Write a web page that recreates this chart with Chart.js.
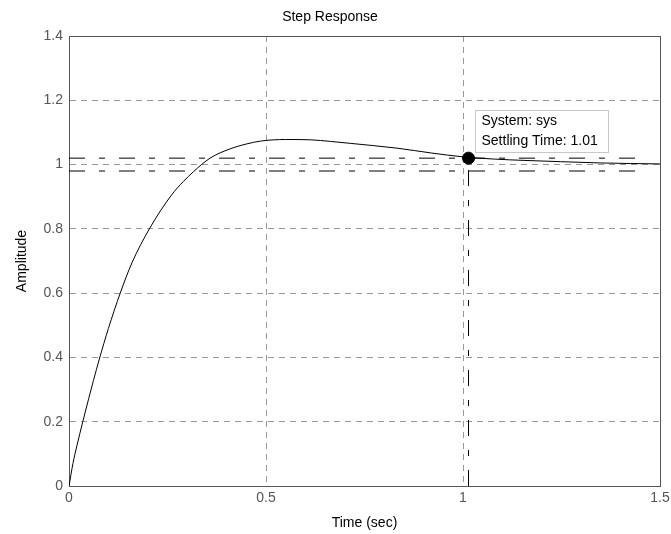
<!DOCTYPE html>
<html lang="en">
<head>
<meta charset="UTF-8">
<title>Step Response</title>
<script src="https://cdn.jsdelivr.net/npm/chart.js"></script>
<style>
  html, body { margin: 0; padding: 0; background: #fff; }
</style>
</head>
<body>
<canvas id="stepChart" width="671" height="534"></canvas>
<script>
// step response (time in sec, amplitude)
const timeSec   = [0, 0.01, 0.02, 0.035, 0.05, 0.062, 0.077, 0.1, 0.13, 0.16, 0.204, 0.26, 0.29, 0.316, 0.358, 0.409, 0.45, 0.486, 0.55, 0.613, 0.664, 0.714, 0.833, 0.92, 1.0, 1.08, 1.155, 1.248, 1.35, 1.5];
const amplitude = [0, 0.07, 0.125, 0.2, 0.272, 0.328, 0.395, 0.49, 0.6, 0.695, 0.8, 0.905, 0.947, 0.978, 1.02, 1.049, 1.064, 1.073, 1.078, 1.077, 1.072, 1.066, 1.051, 1.036, 1.024, 1.017, 1.013, 1.009, 1.005, 1.002];

// settling time marker and +-2% band
const settlingTime = 1.014;
const settlingAmp = 1.02;
const bandUpper = 1.02;
const bandLower = 0.98;
const bandStart = 0;
const bandEnd = 1.465;

// axes
const xRange = [0, 1.5];
const yRange = [0, 1.4];
const xStep = 0.5;
const yStep = 0.2;

const FONT = 'Helvetica, "Liberation Sans", Arial, sans-serif';
const dashBand = [16, 14, 6, 14];

const curve = timeSec.map((t, i) => ({ x: t, y: amplitude[i] }));

const frame = {
    id: 'frame',
    beforeDatasetsDraw(c) {
        const a = c.chartArea, g = c.ctx;
        g.save();
        g.strokeStyle = '#555';
        g.lineWidth = 1;
        g.strokeRect(Math.round(a.left) + 0.5, Math.round(a.top) + 0.5,
            Math.round(a.right - a.left), Math.round(a.bottom - a.top));
        g.restore();
    }
};

// the little data tip next to the marker
const dataTip = {
    id: 'dataTip',
    afterDatasetsDraw(c) {
        const pt = c.getDatasetMeta(4).data[0];
        if (!pt) return;
        const g = c.ctx;
        const bx = Math.round(pt.x + 6) + 0.5;
        const by = Math.round(pt.y - 48) + 0.5;
        g.save();
        g.fillStyle = '#fff';
        g.strokeStyle = '#c8c8c8';
        g.lineWidth = 1;
        g.fillRect(bx, by, 133, 42);
        g.strokeRect(bx, by, 133, 42);
        g.fillStyle = '#000';
        g.font = '14px ' + FONT;
        g.textBaseline = 'middle';
        g.fillText('System: sys', bx + 6, by + 11);
        g.fillText('Settling Time: ' + settlingTime.toFixed(2), bx + 6, by + 31);
        g.restore();
    }
};

const fmt = v => String(+Number(v).toFixed(2));

const ctx = document.getElementById('stepChart').getContext('2d');
const stepChart = new Chart(ctx, {
    type: 'line',
    data: {
        datasets: [
            {
                label: 'sys',
                data: curve,
                borderColor: '#000',
                borderWidth: 1,
                pointRadius: 0,
                cubicInterpolationMode: 'monotone',
                fill: false
            },
            {
                label: 'upper',
                data: [{ x: bandStart, y: bandUpper }, { x: bandEnd, y: bandUpper }],
                borderColor: '#000',
                borderWidth: 1,
                borderDash: dashBand,
                pointRadius: 0
            },
            {
                label: 'lower',
                data: [{ x: bandStart, y: bandLower }, { x: bandEnd, y: bandLower }],
                borderColor: '#000',
                borderWidth: 1,
                borderDash: dashBand,
                pointRadius: 0
            },
            {
                label: 'settle',
                data: [{ x: settlingTime, y: 0 }, { x: settlingTime, y: settlingAmp }],
                borderColor: '#000',
                borderWidth: 1,
                borderDash: dashBand,
                pointRadius: 0
            },
            {
                label: 'marker',
                data: [{ x: settlingTime, y: settlingAmp }],
                showLine: false,
                pointRadius: 6,
                pointBackgroundColor: '#000',
                pointBorderColor: '#000'
            }
        ]
    },
    options: {
        responsive: false,
        animation: false,
        layout: { padding: { right: 11 } },
        plugins: {
            legend: { display: false },
            tooltip: { enabled: false },
            title: {
                display: true,
                text: 'Step Response',
                color: '#000',
                font: { family: FONT, size: 14, weight: 'normal' },
                padding: { top: 8.6, bottom: 10.6 }
            }
        },
        scales: {
            x: {
                type: 'linear',
                min: xRange[0],
                max: xRange[1],
                afterFit: s => { s.height = 48; s.paddingRight = 0; },
                ticks: {
                    stepSize: xStep,
                    color: '#555',
                    padding: 4,
                    font: { family: FONT, size: 14 },
                    callback: fmt
                },
                grid: { color: '#999', drawTicks: false },
                border: { color: '#555', dash: [6, 5] },
                title: {
                    display: true,
                    text: 'Time (sec)',
                    color: '#000',
                    font: { family: FONT, size: 14 },
                    padding: { top: 0, bottom: 2.6 }
                }
            },
            y: {
                min: yRange[0],
                max: yRange[1],
                afterFit: s => { s.width = 69; },
                ticks: {
                    stepSize: yStep,
                    color: '#555',
                    padding: 6,
                    font: { family: FONT, size: 14 },
                    callback: fmt
                },
                grid: { color: '#999', drawTicks: false },
                border: { color: '#555', dash: [6, 5] },
                title: {
                    display: true,
                    text: 'Amplitude',
                    color: '#000',
                    font: { family: FONT, size: 14 },
                    padding: { top: 13.6, bottom: 0 }
                }
            }
        }
    },
    plugins: [frame, dataTip]
});
</script>
</body>
</html>
